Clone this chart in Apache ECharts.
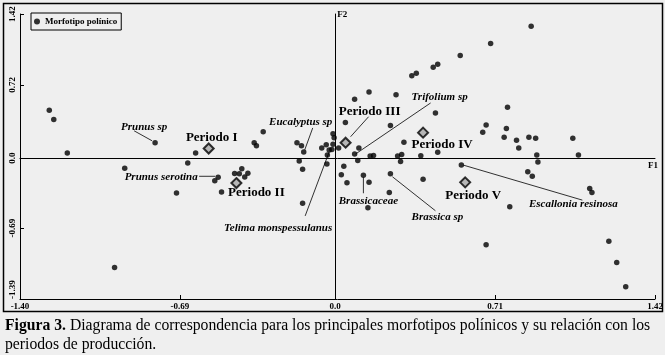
<!DOCTYPE html>
<html>
<head>
<meta charset="utf-8">
<script src="https://cdn.jsdelivr.net/npm/echarts@6.0.0/dist/echarts.min.js"></script>
<style>
  html, body { margin: 0; padding: 0; background: #efefef; }
  #chart { width: 665px; height: 355px; }
</style>
</head>
<body>
<div id="chart"></div>
<script>
// coordenadas (F1, F2) de cada morfotipo polínico
const morfotipos = [
    [-1.27, 0.47], [-1.25, 0.38], [-1.19, 0.05], [-0.80, 0.15], [-0.62, 0.05],
    [-0.36, 0.15], [-0.35, 0.12], [-0.32, 0.26], [-0.17, 0.15], [-0.15, 0.12],
    [-0.14, 0.06], [-0.06, 0.10], [-0.04, 0.13], [-0.01, 0.24], [-0.005, 0.20],
    [-0.01, 0.135], [-0.027, 0.08], [-0.015, 0.085], [-0.035, 0.03], [-0.037, -0.06],
    [0.015, 0.10], [0.045, 0.35], [0.105, 0.10], [0.086, 0.04], [0.10, -0.025],
    [0.155, 0.02], [0.17, 0.025], [0.245, 0.32], [0.305, 0.155], [0.277, 0.02],
    [0.295, 0.035], [0.29, -0.035], [0.38, 0.023], [0.455, 0.057], [-0.16, -0.03],
    [-0.145, -0.11], [0.038, -0.08], [0.027, -0.165], [0.052, -0.245], [0.125, -0.17],
    [0.15, -0.24], [0.245, -0.155], [0.24, -0.34], [0.145, -0.49], [-0.145, -0.445],
    [0.87, 1.30], [0.69, 1.13], [0.555, 1.01], [0.435, 0.895], [0.455, 0.925],
    [0.34, 0.81], [0.36, 0.835], [0.15, 0.65], [0.086, 0.58], [0.27, 0.625],
    [0.445, 0.445], [0.765, 0.50], [0.67, 0.325], [0.655, 0.255], [0.76, 0.29],
    [0.75, 0.205], [0.805, 0.175], [0.815, 0.10], [0.86, 0.205], [0.89, 0.195],
    [1.055, 0.195], [0.895, 0.03], [1.08, 0.03], [0.90, -0.04], [0.39, -0.21],
    [0.56, -0.07], [0.855, -0.135], [0.875, -0.18], [0.775, -0.48], [0.67, -0.855],
    [1.13, -0.30], [1.14, -0.34], [1.215, -0.82], [1.25, -1.03], [1.29, -1.27],
    [-0.935, -0.10], [-0.655, -0.05], [-0.705, -0.345], [-0.98, -1.08], [-0.52, -0.19],
    [-0.535, -0.225], [-0.505, -0.335], [-0.447, -0.153], [-0.426, -0.156], [-0.415, -0.107],
    [-0.402, -0.187], [-0.388, -0.151]
]

const periodoNombres = ['Periodo I', 'Periodo II', 'Periodo III', 'Periodo IV', 'Periodo V']
const periodos = [[-0.562, 0.094], [-0.439, -0.247], [0.046, 0.151], [0.39, 0.25], [0.577, -0.24]]

// morfotipos con nombre (índice en morfotipos)
const especieNombres = ['Prunus sp', 'Eucalyptus sp', 'Telima monspessulanus', 'Trifolium sp',
    'Brassicaceae', 'Brassica sp', 'Escallonia resinosa', 'Prunus serotina']
const especieIndice = [3, 10, 16, 23, 39, 41, 70, 84]

const xTicks = [-1.40, -0.69, 0, 0.71, 1.42]
const xTickLabels = ['-1.40', '-0.69', '0.0', '0.71', '1.42']
const yTicks = [-1.39, -0.69, 0, 0.72, 1.42]
const yTickLabels = ['-1.39', '-0.69', '0.0', '0.72', '1.42']

// desplazamiento de cada etiqueta y de su línea guía (px, relativo al punto)
const etiquetaPos = {
    'Prunus sp': { dx: -11, dy: -16, linea: [-3, -2, -21, -12] },
    'Eucalyptus sp': { dx: -3, dy: -30, linea: [1, -2, 9, -24] },
    'Telima monspessulanus': { dx: -51, dy: 78, linea: [0, 2, -24, 66] },
    'Trifolium sp': { dx: 85, dy: -57, linea: [1, 0, 76, -51] },
    'Brassicaceae': { dx: 5, dy: 26, linea: [0, 2, 0, 18] },
    'Brassica sp': { dx: 47, dy: 43, linea: [2, 3, 45, 37] },
    'Escallonia resinosa': { dx: 112, dy: 39, linea: [2, 0, 121, 35] },
    'Prunus serotina': { dx: -57, dy: 0, linea: [-3, -1, -19, -1] },
    'Periodo I': { dx: 3, dy: -11 },
    'Periodo II': { dx: 20, dy: 10 },
    'Periodo III': { dx: 24, dy: -31, linea: [5, -6, 23, -26] },
    'Periodo IV': { dx: 19, dy: 12 },
    'Periodo V': { dx: 8, dy: 13 },
}

const FONT = '"Liberation Serif", "Times New Roman", serif'

const anotaciones = especieNombres.map((n, i) => ({ name: n, value: morfotipos[especieIndice[i]], periodo: false }))
    .concat(periodoNombres.map((n, i) => ({ name: n, value: periodos[i], periodo: true })))

const tickLabel = (ticks, labels) => (v) => {
    const i = ticks.findIndex((t) => Math.abs(t - v) < 1e-6)
    return i >= 0 ? labels[i] : ''
}

const axisText = { fontFamily: FONT, fontWeight: 'bold', fontSize: 9, color: '#000' }

const chart = echarts.init(document.getElementById('chart'))
chart.setOption({
    backgroundColor: '#efefef',
    animation: false,
    title: {
        left: 5,
        top: 316,
        padding: 0,
        text: '{b|Figura 3.} Diagrama de correspondencia para los principales morfotipos polínicos y su relación con los\nperiodos de producción.',
        textStyle: {
            fontFamily: FONT,
            fontSize: 15.7,
            fontWeight: 'normal',
            color: '#000',
            lineHeight: 19,
            rich: {
                b: { fontFamily: FONT, fontSize: 15.7, fontWeight: 'bold', color: '#000', lineHeight: 19 },
            },
        },
    },
    legend: {
        data: ['Morfotipo polínico'],
        left: 31,
        top: 13,
        padding: [4, 4, 4, 3],
        borderColor: '#000',
        borderWidth: 1,
        icon: 'circle',
        itemWidth: 6,
        itemHeight: 6,
        selectedMode: false,
        textStyle: { fontFamily: FONT, fontWeight: 'bold', fontSize: 9, color: '#000' },
    },
    graphic: [
        {
            type: 'rect',
            silent: true,
            shape: { x: 3.5, y: 3.5, width: 659, height: 308 },
            style: { fill: 'none', stroke: '#000', lineWidth: 1.5 },
        },
    ],
    grid: { left: 20, right: 10, top: 14, bottom: 56, containLabel: false, outerBoundsMode: 'none' },
    xAxis: [
        {
            type: 'value',
            min: -1.40,
            max: 1.42,
            position: 'bottom',
            axisLine: { onZero: false, lineStyle: { color: '#000', width: 1 } },
            axisTick: { inside: true, length: 4, customValues: xTicks, lineStyle: { color: '#000' } },
            axisLabel: { customValues: xTicks, formatter: tickLabel(xTicks, xTickLabels), margin: 3, ...axisText },
            splitLine: { show: false },
        },
        {
            type: 'value',
            min: -1.40,
            max: 1.42,
            axisLine: { onZero: true, onZeroAxisIndex: 0, lineStyle: { color: '#000', width: 1 } },
            axisTick: { show: false },
            axisLabel: { show: false },
            splitLine: { show: false },
            name: 'F1',
            nameLocation: 'end',
            nameGap: 3,
            nameMoveOverlap: false,
            nameTextStyle: { ...axisText, align: 'right', verticalAlign: 'top', padding: [3, 0, 0, 0] },
        },
    ],
    yAxis: [
        {
            type: 'value',
            min: -1.39,
            max: 1.42,
            position: 'left',
            axisLine: { onZero: false, lineStyle: { color: '#000', width: 1 } },
            axisTick: { inside: true, length: 4, customValues: yTicks, lineStyle: { color: '#000' } },
            axisLabel: {
                customValues: yTicks,
                formatter: tickLabel(yTicks, yTickLabels),
                rotate: 90,
                margin: 3,
                alignMinLabel: 'left',
                ...axisText,
            },
            splitLine: { show: false },
        },
        {
            type: 'value',
            min: -1.39,
            max: 1.42,
            axisLine: { onZero: true, onZeroAxisIndex: 0, lineStyle: { color: '#000', width: 1 } },
            axisTick: { show: false },
            axisLabel: { show: false },
            splitLine: { show: false },
            name: 'F2',
            nameLocation: 'end',
            nameGap: 4,
            nameMoveOverlap: false,
            nameTextStyle: { ...axisText, align: 'left', verticalAlign: 'top', padding: [0, 0, 0, 2] },
        },
    ],
    series: [
        {
            name: 'Morfotipo polínico',
            type: 'scatter',
            symbol: 'circle',
            symbolSize: 5.5,
            itemStyle: { color: '#000' },
            data: morfotipos,
            z: 2,
        },
        {
            name: 'Periodos',
            type: 'scatter',
            symbol: 'diamond',
            symbolSize: 10,
            itemStyle: { color: '#a8a8a8', borderColor: '#000', borderWidth: 2 },
            data: periodos,
            z: 3,
        },
        {
            name: 'Etiquetas',
            type: 'custom',
            silent: true,
            clip: false,
            z: 4,
            data: anotaciones.map((a) => a.value),
            renderItem: function (params, api) {
                const a = anotaciones[params.dataIndex]
                const p = api.coord([api.value(0), api.value(1)])
                const pos = etiquetaPos[a.name]
                const children = []
                if (pos.linea) {
                    children.push({
                        type: 'line',
                        shape: {
                            x1: p[0] + pos.linea[0], y1: p[1] + pos.linea[1],
                            x2: p[0] + pos.linea[2], y2: p[1] + pos.linea[3],
                        },
                        style: { stroke: '#000', lineWidth: 0.8 },
                    })
                }
                children.push({
                    type: 'text',
                    x: p[0] + pos.dx,
                    y: p[1] + pos.dy,
                    style: {
                        text: a.name,
                        fill: '#000',
                        align: 'center',
                        verticalAlign: 'middle',
                        font: a.periodo ? 'bold 13px ' + FONT : 'italic bold 11px ' + FONT,
                    },
                })
                return { type: 'group', children: children }
            },
        },
    ],
})
</script>
</body>
</html>
